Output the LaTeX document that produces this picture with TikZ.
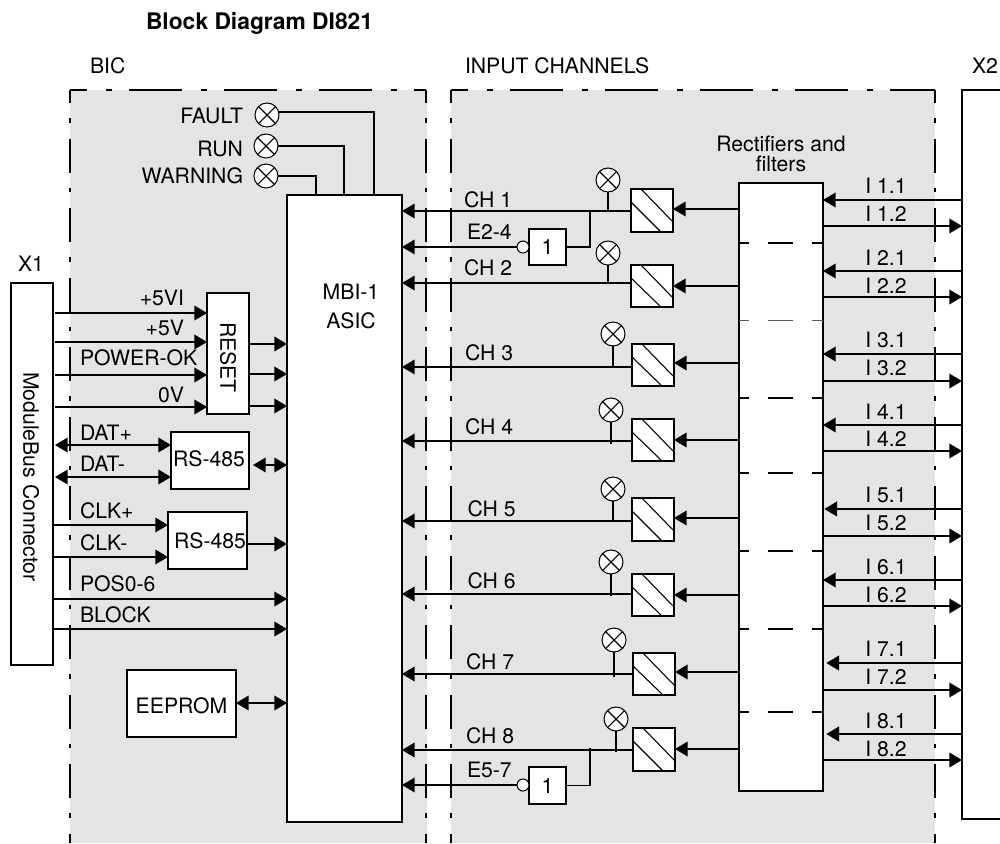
\documentclass[tikz,border=0pt]{standalone}
\usepackage{fontspec}
\setmainfont{TeX Gyre Heros}
\usetikzlibrary{arrows.meta}
\definecolor{panel}{HTML}{E4E4E4}
\newcommand\bx[6]{% name x1 y1 x2 y2 text
  \pgfmathsetmacro\bw{(#4-#2)*0.75}\pgfmathsetmacro\bh{(#5-#3)*0.75}
  \node[boxn,minimum width=\bw pt,minimum height=\bh pt] (#1) at ({(#2+#4)/2},{(#3+#5)/2}) {#6};}
\newcommand\mux[5]{% name x1 y1 x2 y2
  \bx{#1}{#2}{#3}{#4}{#5}{}
  \draw[thin line] ([xshift=7.5pt]#1.north west) -- ([yshift=-24.75pt]#1.north east);
  \draw[thin line] ([yshift=-9.75pt]#1.north west) -- ([xshift=22.5pt]#1.south west);}
\tikzset{
  x=0.75pt,y=-0.75pt,
  every node/.style={font=\fontsize{15.9}{18}\selectfont},
  wire/.style={line width=1.1pt},
  thin line/.style={line width=0.8pt},
  boxn/.style={draw,fill=white,line width=1.1pt,inner sep=0pt,outer sep=0pt,align=center},
  lab/.style={inner sep=0pt,outer sep=0pt,text height=11.6pt,text depth=0pt},
  led/.style={circle,draw,fill=white,line width=0.8pt,minimum size=18pt,inner sep=0pt,outer sep=0pt,
    path picture={\draw[line width=0.8pt] (path picture bounding box.south west)--(path picture bounding box.north east)
      (path picture bounding box.north west)--(path picture bounding box.south east);}},
  bubble/.style={circle,draw,fill=white,line width=0.8pt,minimum size=9pt,inner sep=0pt,outer sep=0pt},
  to/.style={wire,-{Triangle[length=9.5pt,width=11pt]}},
  both/.style={wire,{Triangle[length=9.5pt,width=11pt]}-{Triangle[length=9.5pt,width=11pt]}},
  bordv/.style={line width=1.1pt,dash pattern=on 25.5pt off 11.25pt on 3.4pt off 12pt,dash phase=15.75pt},
  bordh/.style={line width=1.1pt,dash pattern=on 39.75pt off 14.25pt on 4.5pt off 12.75pt,dash phase=27pt},
}
\begin{document}
\begin{tikzpicture}
\useasboundingbox (0,0) rectangle (1000,843);
\fill[white] (0,0) rectangle (1000,843);
% panels
\fill[panel] (70,90) rectangle (427,843);
\fill[panel] (451,90) rectangle (935,843);
\coordinate (bicTL) at (70,90); \coordinate (bicTR) at (426,90);
\coordinate (bicBL) at (70,843); \coordinate (bicBR) at (426,843);
\coordinate (inTL) at (451,90); \coordinate (inTR) at (935,90);
\coordinate (inBL) at (451,843); \coordinate (inBR) at (935,843);
\draw[bordh] (bicTL)--(bicTR); \draw[bordv] (bicTL)--(bicBL); \draw[bordv] (bicTR)--(bicBR);
\draw[bordh] (inTL)--(inTR); \draw[bordv] (inTL)--(inBL); \draw[bordv] (inTR)--(inBR);
% titles
\node[lab,anchor=west,font=\fontsize{17.1}{20}\selectfont\bfseries] (title) at (146,22) {Block Diagram DI821};
\node[lab,anchor=west] (tbic) at (90,66) {BIC};
\node[lab,anchor=west] (tin) at (465,66) {INPUT CHANNELS};
\node[lab,anchor=west] (tx2) at (972,66) {X2};
\node[lab] (tx1) at (31,264) {X1};
% main boxes
\bx{x1}{11}{283}{53}{665}{}
\node[lab,rotate=-90] (tx1b) at (31,477) {ModuleBus Connector};
\draw[boxn,fill=white] (1002,90) -- (962,90) -- (962,819) -- (1002,819);
\coordinate (x2w) at (962,450);
\bx{mbi}{287}{195}{402}{822}{}
\node[lab] (tmbi) at (351,292) {MBI-1};
\node[lab] (tasic) at (351,321) {ASIC};
\bx{reset}{207}{293}{249}{414}{}
\node[lab,rotate=-90] (treset) at (228,357.5) {RESET};
\bx{rsa}{171}{432}{249}{489}{}
\node[lab] (trsa) at (209,459) {RS-485};
\bx{rsb}{168}{512}{247}{569}{}
\node[lab] (trsb) at (210,541) {RS-485};
\bx{eeprom}{127}{670}{236}{737}{}
\node[lab] (tee) at (181.5,706) {EEPROM};
\bx{rect}{739}{183}{823}{791}{}
% rectifier separators
\foreach \y in {243,398,473,551,629,712}{
  \draw[wire] (rect.west |- 0,\y) -- ++(10,0) ++(19,0) -- ++(25,0) ++(19,0) -- (rect.east |- 0,\y);}
\draw[line width=0.6pt,black!65] (rect.west |- 0,320) -- ++(10,0) ++(19,0) -- ++(25,0) ++(19,0) -- (rect.east |- 0,320);
\node[lab,align=center] (trect1) at (781,144) {Rectifiers and};
\node[lab,align=center] (trect2) at (781,164) {filters};
% status LEDs
\node[led] (lf) at (267,115) {};
\node[led] (lr) at (266,146) {};
\node[led] (lw) at (266,176) {};
\node[lab,anchor=east] (tf) at (243,116) {FAULT};
\node[lab,anchor=east] (tr) at (243,149) {RUN};
\node[lab,anchor=east] (tw) at (243,176) {WARNING};
\draw[wire] (lf.east |- 0,112) -| (mbi.north -| 374,0);
\draw[wire] (lr.east) -| (mbi.north -| 344,0);
\draw[wire] (lw.east) -| (mbi.north -| 316,0);
% left side inputs
\foreach \y in {313,342,375,407}
  \draw[to] (x1.east |- 0,\y) ++(2,0) -- (reset.west |- 0,\y);
\node[lab,anchor=east] (t5vi) at (184,298) {+5VI};
\node[lab,anchor=east] (t5v) at (184,328) {+5V};
\node[lab,anchor=west] (tpok) at (80,358) {POWER-OK};
\node[lab,anchor=east] (t0v) at (184,395) {0V};
\foreach \y in {344,374,406}
  \draw[to] (reset.east |- 0,\y) -- (mbi.west |- 0,\y);
\foreach \y in {445,477}
  \draw[both] (x1.east |- 0,\y) ++(2,0) -- (rsa.west |- 0,\y);
\node[lab,anchor=west] (tdp) at (80,433) {DAT+};
\node[lab,anchor=west] (tdm) at (80,464) {DAT-};
\draw[both] (rsa.east |- 0,465) ++(4,0) -- (mbi.west |- 0,465);
\foreach \y in {525,557}
  \draw[to] (x1.east |- 0,\y) -- (rsb.west |- 0,\y);
\node[lab,anchor=west] (tcp) at (80,511) {CLK+};
\node[lab,anchor=west] (tcm) at (80,543) {CLK-};
\draw[to] (rsb.east |- 0,544) -- (mbi.west |- 0,544);
\draw[to] (x1.east |- 0,599) -- (mbi.west |- 0,599);
\draw[to] (x1.east |- 0,629) -- (mbi.west |- 0,629);
\node[lab,anchor=west] (tpos) at (80,584) {POS0-6};
\node[lab,anchor=west] (tblk) at (80,615) {BLOCK};
\draw[both] (eeprom.east |- 0,703) -- (mbi.west |- 0,703);
% channels
\foreach \c/\xa/\ya/\xb/\yb/\ly/\lx/\ley/\sy/\ay/\tx/\ty in {
  1/631/189/673/232/211/608/180/211/209/464/200,
  2/631/265/673/307/283/608/253/283/286/464/268,
  3/632/344/674/386/367/613/334/367/363/465/353,
  4/632/419/674/461/441/611/410/444/440/465/427,
  5/632/498/674/541/521/613/489/521/518/467.5/509,
  6/632/574/674/616/594/611/562/596/595/467.5/581,
  7/633/653/675/695/674/614/640/677/672/466/662,
  8/633/728/675/771/750/616/719/752/749/466/736}{
  \mux{m\c}{\xa}{\ya}{\xb}{\yb}
  \draw[to] (rect.west |- 0,\ay) -- (m\c.east |- 0,\ay);
  \draw[to] (m\c.west |- 0,\ly) -- (mbi.east |- 0,\ly);
  \node[led] (led\c) at (\lx,\ley) {};
  \draw[wire] (led\c.south) -- (\lx,\sy);
  \node[lab,anchor=west] (ch\c) at (\tx,\ty) {CH \c};
}
% inverters
\bx{inva}{529}{229}{566}{265}{1}
\bx{invb}{529}{767}{566}{804}{1}
\node[bubble] (bua) at (523,247) {};
\node[bubble] (bub) at (523,785) {};
\draw[to] (bua.west) -- (mbi.east |- bua.west);
\draw[to] (bub.west) -- (mbi.east |- bub.west);
\draw[wire] (inva.east) -| (590,211);
\draw[wire] (invb.east) -| (590,748);
\node[lab,anchor=west] (te24) at (467,232) {E2-4};
\node[lab,anchor=west] (te57) at (467,770) {E5-7};
% field signals
\foreach \k/\ya/\yb/\ta/\tb/\g in {1/200/226/186/214/0,2/271/297/258/286/0,3/354/381/340/368/0,4/425/451/412/439/0,5/509/536/495/523/1,6/580/606/567/595/0,7/663/690/649/677/2.5,8/734/760/721/749/2.5}{
  \draw[to] (x2w |- 0,\ya) -- ([xshift=\g pt]rect.east |- 0,\ya);
  \draw[to] (rect.east |- 0,\yb) -- (x2w |- 0,\yb);
  \node[lab] (ti\k a) at (886,\ta) {I \k.1};
  \node[lab] (ti\k b) at (886,\tb) {I \k.2};
}
\end{tikzpicture}
\end{document}
